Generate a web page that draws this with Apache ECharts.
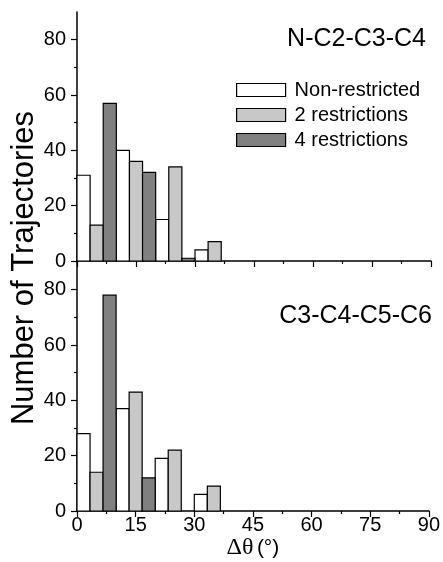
<!DOCTYPE html>
<html style="width:100%;height:100%;">
<head>
	<meta charset="UTF-8">
	<title>Δθ histogram</title>
	<script src="https://cdn.jsdelivr.net/npm/echarts@6/dist/echarts.min.js"></script>
</head>
<body style="width:100%;height:100%;margin:0;padding:0;background:#fff;">
	<div id="main" style="width:443px;height:562px;"></div>
	<script>
		// bin starts (degrees), each bin 10 deg wide, three bars per bin
		var binStarts = [0, 10, 20, 30];
		var binWidth = 10;
		var seriesNames = ['Non-restricted', '2 restrictions', '4 restrictions'];
		var seriesColors = ['#ffffff', '#c8c8c8', '#808080'];

		// N-C2-C3-C4 (top panel)
		var topNonRestricted = [31, 40, 15, 4];
		var topTwoRestr = [13, 36, 34, 7];
		var topFourRestr = [57, 32, 1, 0];
		// C3-C4-C5-C6 (bottom panel)
		var botNonRestricted = [28, 37, 19, 6];
		var botTwoRestr = [14, 43, 22, 9];
		var botFourRestr = [78, 12, 0, 0];

		var xTicks = [0, 15, 30, 45, 60, 75, 90];
		var yMajor = [0, 20, 40, 60, 80];
		var yMinor = [10, 30, 50, 70];

		var font = 'Liberation Sans, Arial, sans-serif';

		function pairs(vals) {
			return binStarts.map(function (b, i) { return [b, vals[i]]; });
		}

		// 每个柱子占一个区间的三分之一
		function renderBar(k) {
			return function (params, api) {
				var v = api.value(1);
				if (!v) return null;
				var x0 = api.value(0) + k * binWidth / 3;
				var p0 = api.coord([x0, 0]);
				var p1 = api.coord([x0 + binWidth / 3, v]);
				return {
					type: 'rect',
					shape: { x: p0[0], y: p1[1], width: p1[0] - p0[0], height: p0[1] - p1[1] },
					style: { fill: seriesColors[k], stroke: '#000', lineWidth: 1.2 }
				};
			};
		}

		function makeSeries(k, vals, gi) {
			return {
				name: seriesNames[k],
				type: 'custom',
				xAxisIndex: gi,
				yAxisIndex: gi * 2,
				renderItem: renderBar(k),
				data: pairs(vals),
				z: 3
			};
		}

		function xAxisFor(gi) {
			return {
				type: 'value', gridIndex: gi, min: 0, max: 90, interval: 15,
				position: 'bottom',
				axisLine: { lineStyle: { color: '#000', width: 1.5 } },
				axisTick: { inside: false, length: 6, lineStyle: { color: '#000', width: 1.2 } },
				minorTick: { show: true, splitNumber: 2, length: 3, lineStyle: { color: '#000', width: 1.2 } },
				splitLine: { show: false },
				axisLabel: {
					show: gi === 1, color: '#000', fontFamily: font, fontSize: 20, margin: 4,
					customValues: xTicks
				},
				name: gi === 1 ? '{s|Δθ} {n|(°)}' : '',
				nameLocation: 'middle',
				nameGap: 25,
				nameTextStyle: {
					rich: {
						s: { fontFamily: 'Liberation Serif, Times New Roman, serif', fontSize: 24, color: '#000' },
						n: { fontFamily: font, fontSize: 21, color: '#000' }
					}
				}
			};
		}

		function yAxesFor(gi) {
			return [{
				type: 'value', gridIndex: gi, min: 0, max: 90, interval: 10, position: 'left',
				axisLine: { show: true, lineStyle: { color: '#000', width: 1.5 } },
				axisTick: { show: true, inside: false, length: 6, customValues: yMajor, lineStyle: { color: '#000', width: 1.2 } },
				axisLabel: { color: '#000', fontFamily: font, fontSize: 20, margin: 11, customValues: yMajor },
				splitLine: { show: false }
			}, {
				type: 'value', gridIndex: gi, min: 0, max: 90, interval: 10, position: 'left', offset: 0,
				axisLine: { show: false },
				axisTick: { show: true, inside: false, length: 3, customValues: yMinor, lineStyle: { color: '#000', width: 1.2 } },
				axisLabel: { show: false },
				splitLine: { show: false }
			}];
		}

		var myChart = echarts.init(document.getElementById('main'));
		var option = {
			backgroundColor: '#fff',
			animation: false,
			textStyle: { fontFamily: font },
			grid: [
				{ left: 77, right: 12, top: 12, height: 249 },
				{ left: 77, right: 12, top: 262, height: 249 }
			],
			title: [
				{ text: 'N-C2-C3-C4', right: 17, top: 27, padding: 0, textStyle: { fontFamily: font, fontSize: 25, fontWeight: 'normal', color: '#000' } },
				{ text: 'C3-C4-C5-C6', right: 11, top: 304, padding: 0, textStyle: { fontFamily: font, fontSize: 25, fontWeight: 'normal', color: '#000' } }
			],
			legend: {
				orient: 'vertical', left: 236, top: 80, padding: 0,
				itemWidth: 49, itemHeight: 13, itemGap: 5,
				selectedMode: false,
				textStyle: { fontFamily: font, fontSize: 20, color: '#000', padding: [0, 0, 0, 4] },
				data: seriesNames.map(function (n, k) {
					return { name: n, icon: 'rect', itemStyle: { color: seriesColors[k], borderColor: '#000', borderWidth: 1.2 } };
				})
			},
			graphic: [{
				type: 'text', x: 24, y: 268, rotation: Math.PI / 2,
				style: { text: 'Number of Trajectories', fontFamily: font, fontSize: 31, fill: '#000', align: 'center', verticalAlign: 'middle' }
			}],
			xAxis: [xAxisFor(0), xAxisFor(1)],
			yAxis: yAxesFor(0).concat(yAxesFor(1)),
			series: [
				makeSeries(0, topNonRestricted, 0),
				makeSeries(1, topTwoRestr, 0),
				makeSeries(2, topFourRestr, 0),
				makeSeries(0, botNonRestricted, 1),
				makeSeries(1, botTwoRestr, 1),
				makeSeries(2, botFourRestr, 1)
			]
		};
		myChart.setOption(option);
	</script>
</body>
</html>
